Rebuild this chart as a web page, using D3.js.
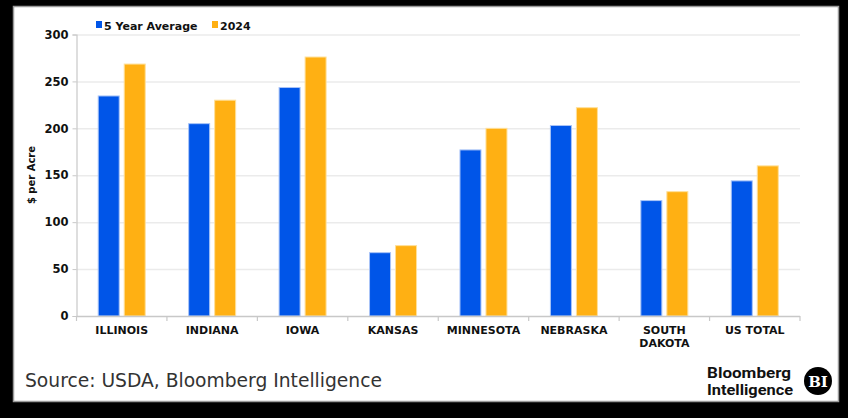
<!DOCTYPE html>
<html><head><meta charset="utf-8">
<script src="https://cdn.jsdelivr.net/npm/d3@7/dist/d3.min.js"></script>
<style>html,body{margin:0;padding:0;background:#000;}svg{display:block;}</style>
</head><body>
<script>
const categories = ["ILLINOIS","INDIANA","IOWA","KANSAS","MINNESOTA","NEBRASKA","SOUTH DAKOTA","US TOTAL"];
const fiveYearAvg = [234.5, 205, 243.5, 67.5, 177, 203, 123, 144];
const y2024 = [268.5, 230, 276, 75, 200, 222, 132.5, 160];
const seriesNames = ["5 Year Average","2024"];
const yTicks = [0,50,100,150,200,250,300];

const W = 848, H = 418;
const colors = ["#0055e8","#ffb013"];
const svg = d3.select("body").append("svg").attr("width",W).attr("height",H);
svg.append("rect").attr("width",W).attr("height",H).attr("fill","#000");
svg.append("rect").attr("x",13.5).attr("y",6.5).attr("width",825).attr("height",395)
  .attr("fill","#fff").attr("stroke","#9a9a9a").attr("stroke-width",1.5);

const x0 = 76.5, x1 = 800, yTop = 34.5, yBot = 316;
const x = d3.scaleBand().domain(categories).range([x0,x1]);
const y = d3.scaleLinear().domain([0,300]).range([yBot,yTop]);
const barW = 21, gap = 5;

// gridlines
svg.append("g").selectAll("line").data(yTicks.filter(t=>t>0)).join("line")
  .attr("x1",x0).attr("x2",x1).attr("y1",d=>y(d)+0.5).attr("y2",d=>y(d)+0.5)
  .attr("stroke","#ebebeb").attr("stroke-width",1.5);

// y axis
const ya = svg.append("g").attr("transform",`translate(${x0},0)`)
  .call(d3.axisLeft(y).tickValues(yTicks).tickSize(4).tickPadding(4));
ya.select(".domain").attr("stroke","#c8c8c8").attr("stroke-width",1.2);
ya.selectAll(".tick line").attr("stroke","#c8c8c8");
ya.selectAll("text").attr("font-family","DejaVu Sans, Verdana, sans-serif").attr("font-weight","bold")
  .attr("font-size","11.5px").attr("fill","#111");

// bars
const data = categories.map((c,i)=>({c, v:[fiveYearAvg[i], y2024[i]]}));
const g = svg.append("g");
data.forEach(d=>{
  const cx = x(d.c) + x.bandwidth()/2;
  d.v.forEach((v,j)=>{
    const bx = j===0 ? cx - gap/2 - barW : cx + gap/2;
    g.append("rect").attr("x",bx).attr("y",y(v)).attr("width",barW).attr("height",y(0)-y(v))
      .attr("fill",colors[j]).attr("stroke",j===0?"#a9c4f7":"#ffe09a").attr("stroke-width",1);
  });
});

// x axis
const xa = svg.append("g").attr("transform",`translate(0,${yBot})`);
xa.append("line").attr("x1",x0).attr("x2",x1).attr("y1",0.5).attr("y2",0.5).attr("stroke","#c8c8c8").attr("stroke-width",1.5);
xa.selectAll(".tk").data(d3.range(categories.length+1)).join("line").attr("class","tk")
  .attr("x1",i=>x0+i*x.bandwidth()).attr("x2",i=>x0+i*x.bandwidth()).attr("y1",0).attr("y2",5)
  .attr("stroke","#c8c8c8").attr("stroke-width",1.2);
categories.forEach(c=>{
  const words = c==="SOUTH DAKOTA" ? ["SOUTH","DAKOTA"] : [c];
  const t = xa.append("text").attr("x",x(c)+x.bandwidth()/2).attr("y",18)
    .attr("text-anchor","middle").attr("font-family","DejaVu Sans, Verdana, sans-serif")
    .attr("font-weight","bold").attr("font-size","11px").attr("fill","#111");
  words.forEach((w,i)=>t.append("tspan").attr("x",x(c)+x.bandwidth()/2).attr("dy",i===0?0:13).text(w));
});

// y label
svg.append("text").attr("transform","translate(35,175) rotate(-90)").attr("text-anchor","middle")
  .attr("font-family","DejaVu Sans, Verdana, sans-serif").attr("font-weight","bold").attr("font-size","10px")
  .attr("fill","#111").text("$ per Acre");

// legend
const lg = svg.append("g");
const legX = [96, 212];
seriesNames.forEach((n,i)=>{
  lg.append("rect").attr("x",legX[i]).attr("y",21).attr("width",6).attr("height",7).attr("fill",colors[i]);
  lg.append("text").attr("x",legX[i]+8).attr("y",29.5).attr("font-family","DejaVu Sans, Verdana, sans-serif")
    .attr("font-weight","bold").attr("font-size","11px").attr("fill","#111").text(n);
});

// source
svg.append("text").attr("x",25).attr("y",387).attr("font-family","DejaVu Sans Condensed, Liberation Sans Narrow, sans-serif")
  .attr("font-size","19px").attr("fill","#333").attr("textLength",357).attr("lengthAdjust","spacingAndGlyphs")
  .text("Source: USDA, Bloomberg Intelligence");

// logo
svg.append("text").attr("x",707).attr("y",378).attr("font-family","Roboto, sans-serif").attr("font-weight","bold")
  .attr("font-size","15px").attr("fill","#111").attr("textLength",84).attr("lengthAdjust","spacingAndGlyphs").text("Bloomberg");
svg.append("text").attr("x",707).attr("y",395).attr("font-family","Roboto, sans-serif").attr("font-weight","bold")
  .attr("font-size","15px").attr("fill","#111").attr("textLength",86).attr("lengthAdjust","spacingAndGlyphs").text("Intelligence");
svg.append("circle").attr("cx",818).attr("cy",381).attr("r",14).attr("fill","#000");
svg.append("text").attr("x",818).attr("y",387).attr("text-anchor","middle").attr("font-family","DejaVu Serif, serif")
  .attr("font-weight","bold").attr("font-size","15px").attr("fill","#fff").text("BI");
</script>
</body></html>
